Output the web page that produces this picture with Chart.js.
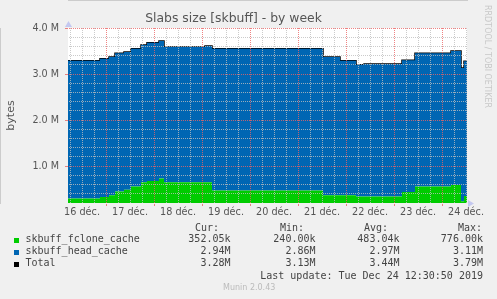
<!DOCTYPE html>
<html>
<head>
<meta charset="utf-8">
<script src="https://cdn.jsdelivr.net/npm/chart.js@4"></script>
<style>
  body { margin: 0; background: #f0f0f0; }
  #wrap { position: relative; width: 497px; height: 299px; overflow: hidden; }
  #c { position: absolute; left: 0; top: 0; }
  .mono { position: absolute; font-family: 'DejaVu Sans Mono', monospace; font-size: 10px; line-height: 12px; color: #444; white-space: pre; }
  .sq { position: absolute; width: 5px; height: 5px; }
  #rrd { position: absolute; left: 483px; top: 5px; writing-mode: vertical-rl; font-family: 'DejaVu Sans', sans-serif; font-size: 8px; line-height: 8px; color: #c8c8c8; white-space: nowrap; }
  #munin { position: absolute; left: 223px; top: 283px; font-family: 'DejaVu Sans', sans-serif; font-size: 8px; line-height: 10px; color: #bbbbbb; white-space: nowrap; }
</style>
</head>
<body>
<div id="wrap">
  <canvas id="c" width="497" height="299"></canvas>
  <div id="rrd">RRDTOOL / TOBI OETIKER</div>
  <div id="munin">Munin 2.0.43</div>
</div>
<script>
//----------------------------------DATA-------------------------------------
// hours since 16 déc. 00:00, each value holds until the next point
const hours = [5, 21, 25.5, 28.5, 33, 36.5, 41.5, 44.5, 50.5, 53, 73.5, 77, 132.5, 141, 149, 153, 172, 178.5, 196.5, 201.5, 203, 204.5];
const fcloneCache = [0.30, 0.33, 0.37, 0.45, 0.49, 0.56, 0.65, 0.68, 0.73, 0.65, 0.65, 0.47, 0.37, 0.37, 0.34, 0.34, 0.44, 0.56, 0.59, 0.24, 0.35, 0.35];
const headCache = [2.99, 3.00, 3.00, 3.00, 2.99, 2.99, 2.98, 3.00, 2.99, 2.94, 2.96, 3.08, 3.00, 2.92, 2.86, 2.88, 2.86, 2.89, 2.91, 2.89, 2.93, 2.93];
const total = [3.29, 3.33, 3.37, 3.45, 3.48, 3.55, 3.63, 3.68, 3.72, 3.59, 3.61, 3.55, 3.37, 3.29, 3.20, 3.22, 3.30, 3.45, 3.50, 3.13, 3.28, 3.28];

const dayLabels = ['16 déc.', '17 déc.', '18 déc.', '19 déc.', '20 déc.', '21 déc.', '22 déc.', '23 déc.', '24 déc.'];

const seriesNames = ['skbuff_fclone_cache', 'skbuff_head_cache', 'Total'];
const seriesColors = ['#00cc00', '#0066b3', '#000000'];
const curValues = ['352.05k', '2.94M', '3.28M'];
const minValues = ['240.00k', '2.86M', '3.13M'];
const avgValues = ['483.04k', '2.97M', '3.44M'];
const maxValues = ['776.00k', '3.11M', '3.79M'];

//----------------------------------LEGEND-------------------------------------
const wrap = document.getElementById('wrap');

function addText(text, top, opts) {
    const d = document.createElement('div');
    d.className = 'mono';
    d.textContent = text;
    d.style.top = top + 'px';
    if (opts.left !== undefined) d.style.left = opts.left + 'px';
    if (opts.right !== undefined) d.style.right = (497 - opts.right) + 'px';
    wrap.appendChild(d);
}

const headerEdges = [219, 304, 388, 482];
['Cur:', 'Min:', 'Avg:', 'Max:'].forEach((h, i) => addText(h, 222, {right: headerEdges[i]}));

const valueEdges = [230.5, 315.5, 399.5, 483];
const columns = [curValues, minValues, avgValues, maxValues];
seriesNames.forEach((name, row) => {
    const top = 233 + row * 12;
    const sq = document.createElement('div');
    sq.className = 'sq';
    sq.style.left = '14px';
    sq.style.top = (top + 5) + 'px';
    sq.style.background = seriesColors[row];
    wrap.appendChild(sq);
    addText(name, top, {left: 25.5});
    columns.forEach((col, i) => addText(col[row], top, {right: valueEdges[i]}));
});
addText('Last update: Tue Dec 24 12:30:50 2019', 269.5, {right: 483});

//----------------------------------CHART-------------------------------------
const MINOR = 'rgba(190,190,190,0.8)';
const MAJOR = 'rgba(235,100,100,0.8)';
const TICK_RED = '#e88080';

const isDay = v => v % 24 === 0;
const isWhole = v => Math.abs(v - Math.round(v)) < 1e-9;

function points(values) {
    return hours.map((h, i) => ({x: h, y: values[i]}));
}

const plotDecor = {
    id: 'plotDecor',
    beforeDraw(chart) {
        const {ctx, chartArea: a} = chart;
        ctx.save();
        ctx.fillStyle = '#ffffff';
        ctx.fillRect(a.left, a.top, a.right - a.left, a.bottom - a.top);
        ctx.restore();
    },
    afterDraw(chart) {
        const {ctx, chartArea: a} = chart;
        ctx.save();
        ctx.fillStyle = '#c4c8f0';
        // y axis arrow
        ctx.beginPath();
        ctx.moveTo(a.left - 3, a.top - 1);
        ctx.lineTo(a.left + 0.5, a.top - 7);
        ctx.lineTo(a.left + 4, a.top - 1);
        ctx.closePath();
        ctx.fill();
        // x axis arrow
        ctx.beginPath();
        ctx.moveTo(a.right + 1, a.bottom - 3);
        ctx.lineTo(a.right + 7, a.bottom + 0.5);
        ctx.lineTo(a.right + 1, a.bottom + 4);
        ctx.closePath();
        ctx.fill();
        ctx.restore();
    }
};

const ctx = document.getElementById('c').getContext('2d');
const chart = new Chart(ctx, {
    type: 'line',
    data: {
        datasets: [{
            label: seriesNames[0],
            data: points(fcloneCache),
            stack: 'areas',
            fill: 'start',
            backgroundColor: seriesColors[0],
            borderWidth: 0,
            pointRadius: 0,
            stepped: true
        }, {
            label: seriesNames[1],
            data: points(headCache),
            stack: 'areas',
            fill: '-1',
            backgroundColor: seriesColors[1],
            borderWidth: 0,
            pointRadius: 0,
            stepped: true
        }, {
            label: seriesNames[2],
            data: points(total),
            stack: 'total',
            fill: false,
            borderColor: seriesColors[2],
            borderWidth: 1.5,
            pointRadius: 0,
            stepped: true
        }]
    },
    options: {
        responsive: false,
        animation: false,
        devicePixelRatio: 1,
        layout: { padding: { left: 0, right: 30, top: 0, bottom: 0 } },
        scales: {
            x: {
                type: 'linear',
                min: 5,
                max: 204.5,
                afterBuildTicks: (scale) => {
                    const t = [];
                    for (let h = 6; h <= 204; h += 6) t.push({value: h});
                    scale.ticks = t;
                },
                afterFit: (scale) => {
                    scale.height = 96;
                    scale.paddingLeft = 0;
                    scale.paddingRight = 0;
                },
                ticks: {
                    autoSkip: false,
                    maxRotation: 0,
                    minRotation: 0,
                    padding: 1,
                    color: '#555555',
                    font: { family: 'DejaVu Sans', size: 9.7 },
                    callback: (v) => v % 24 === 12 ? dayLabels[(v - 12) / 24] : ''
                },
                grid: {
                    z: 1,
                    lineWidth: 1,
                    color: (c) => c.tick && isDay(c.tick.value) ? MAJOR : MINOR,
                    tickColor: (c) => c.tick && isDay(c.tick.value) ? TICK_RED : 'rgba(0,0,0,0)',
                    tickLength: 3
                },
                border: { color: '#a8a8a8', dash: [1, 1] }
            },
            y: {
                type: 'linear',
                stacked: true,
                min: 0.2,
                max: 4.0,
                afterBuildTicks: (scale) => {
                    const t = [];
                    for (let i = 1; i <= 20; i++) t.push({value: i / 5});
                    scale.ticks = t;
                },
                afterFit: (scale) => {
                    scale.width = 68;
                    scale.paddingTop = 0;
                    scale.paddingBottom = 0;
                },
                ticks: {
                    autoSkip: false,
                    padding: 6,
                    color: '#555555',
                    font: { family: 'DejaVu Sans', size: 9.6 },
                    callback: (v) => isWhole(v) ? v.toFixed(1) + ' M' : ''
                },
                grid: {
                    z: 1,
                    lineWidth: 1,
                    color: (c) => {
                        if (!c.tick) return 'rgba(0,0,0,0)';
                        if (Math.abs(c.tick.value - 0.2) < 1e-9) return 'rgba(0,0,0,0)';
                        return isWhole(c.tick.value) ? MAJOR : MINOR;
                    },
                    tickColor: (c) => c.tick && isWhole(c.tick.value) ? TICK_RED : 'rgba(0,0,0,0)',
                    tickLength: 3
                },
                border: { color: '#a8a8a8', dash: [1, 1] },
                title: {
                    display: true,
                    text: 'bytes',
                    color: '#555555',
                    font: { family: 'DejaVu Sans', size: 11 },
                    padding: { top: 5, bottom: 0 }
                }
            }
        },
        plugins: {
            legend: { display: false },
            tooltip: { enabled: false },
            title: {
                display: true,
                text: 'Slabs size [skbuff] - by week',
                color: '#555555',
                font: { family: 'DejaVu Sans', size: 12.4, weight: 'normal', lineHeight: '15px' },
                padding: { top: 11, bottom: 2 }
            }
        }
    },
    plugins: [plotDecor]
});
</script>
</body>
</html>
